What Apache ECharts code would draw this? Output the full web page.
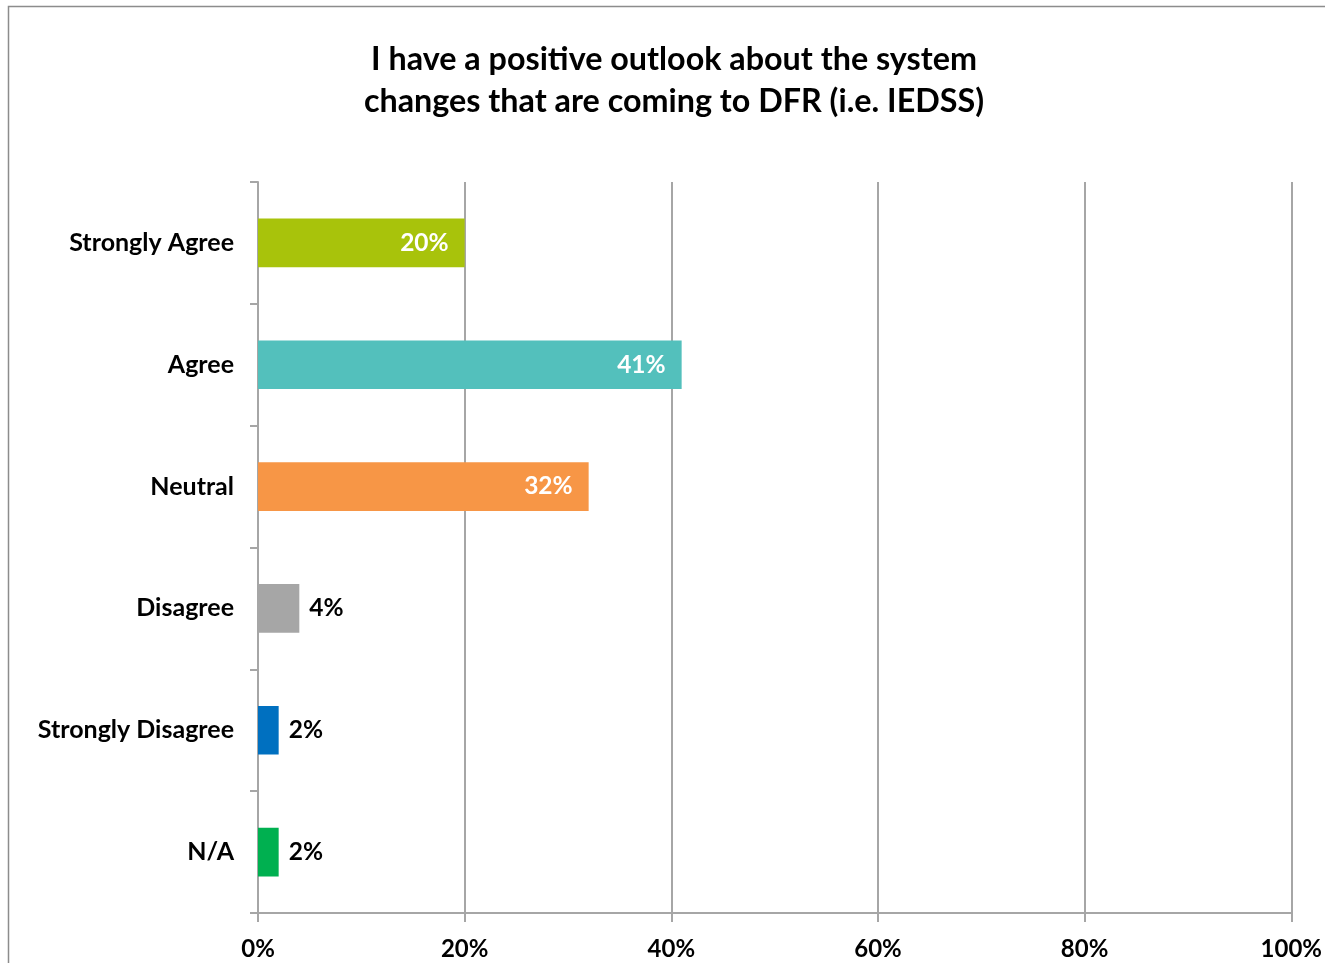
<!DOCTYPE html>
<html>
<head>
<meta charset="utf-8">
<script src="https://cdn.jsdelivr.net/npm/echarts@6/dist/echarts.min.js"></script>
<style>
  html, body { margin: 0; padding: 0; background: #fff; }
  #chart { width: 1325px; height: 963px; }
</style>
</head>
<body>
<div id="chart"></div>
<script>
// Survey responses, top to bottom
const categories = ['Strongly Agree', 'Agree', 'Neutral', 'Disagree', 'Strongly Disagree', 'N/A'];
const shares = [20, 41, 32, 4, 2, 2];
const barColors = ['#A8C30B', '#53C0BC', '#F79646', '#A6A6A6', '#0070C0', '#00B050'];
const xTicks = [0, 20, 40, 60, 80, 100];

const FONT = 'Lato, "Open Sans", sans-serif';
const chart = echarts.init(document.getElementById('chart'));

chart.setOption({
  animation: false,
  backgroundColor: '#fff',
  title: {
    text: 'I have a positive outlook about the system\nchanges that are coming to DFR (i.e. IEDSS)',
    left: 669,
    top: 34,
    textAlign: 'center',
    textStyle: { fontFamily: FONT, fontSize: 32.3, fontWeight: 'bold', color: '#000', lineHeight: 42 }
  },
  graphic: [{
    type: 'rect',
    shape: { x: 8.5, y: 6.5, width: 1400, height: 1000 },
    style: { fill: 'none', stroke: '#8c8c8c', lineWidth: 1.5 },
    silent: true
  }],
  grid: { left: 258, right: 32, top: 182, bottom: 50, containLabel: false },
  xAxis: {
    type: 'value',
    min: xTicks[0],
    max: xTicks[xTicks.length - 1],
    interval: 20,
    axisLine: { show: true, lineStyle: { color: '#a6a6a6', width: 2 } },
    axisTick: { show: true, length: 9, lineStyle: { color: '#a6a6a6', width: 2 } },
    splitLine: { show: true, lineStyle: { color: '#a6a6a6', width: 2 } },
    axisLabel: {
      margin: 24,
      formatter: v => v + '%',
      fontFamily: FONT, fontSize: 24, fontWeight: 'bold', color: '#000'
    }
  },
  yAxis: {
    type: 'category',
    inverse: true,
    data: categories,
    axisLine: { show: true, lineStyle: { color: '#a6a6a6', width: 2 } },
    axisTick: { show: true, length: 8, lineStyle: { color: '#a6a6a6', width: 2 } },
    axisLabel: {
      margin: 24,
      fontFamily: FONT, fontSize: 25, fontWeight: 'bold', color: '#000'
    }
  },
  series: [{
    type: 'bar',
    barCategoryGap: '60%',
    data: shares.map((v, i) => {
      const inside = v >= 10;
      return {
        value: v,
        itemStyle: { color: barColors[i] },
        label: inside
          ? { position: 'insideRight', distance: 16, color: '#fff' }
          : { position: 'right', distance: 10, color: '#000' }
      };
    }),
    label: {
      show: true,
      formatter: p => p.value + '%',
      fontFamily: FONT, fontSize: 24.5, fontWeight: 'bold'
    }
  }]
});
</script>
</body>
</html>
